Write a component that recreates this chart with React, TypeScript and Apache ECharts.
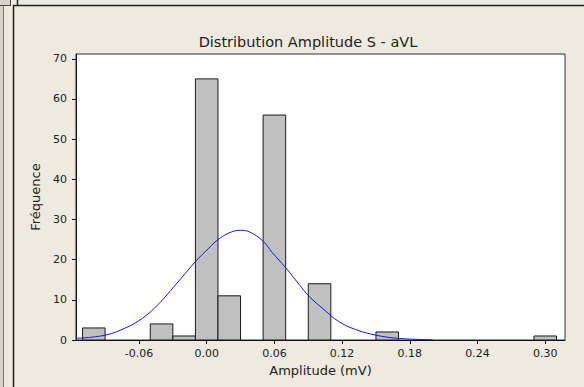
import React, { useEffect, useRef } from "react";
import * as echarts from "echarts";

// Histogram bins (width 0.02 mV) and their counts
const binCenters = [-0.1, -0.04, -0.02, 0.0, 0.02, 0.06, 0.1, 0.16, 0.3];
const binCounts = [3, 4, 1, 65, 11, 56, 14, 2, 1];
const binWidth = 0.02;

// Fitted normal curve, sampled points (amplitude, frequency)
const curveX = [
  -0.116, -0.09, -0.072, -0.057, -0.0425, -0.028, -0.01, 0.002, 0.011, 0.022,
  0.03, 0.038, 0.05, 0.058, 0.07, 0.082, 0.091, 0.103, 0.117, 0.132, 0.15,
  0.17, 0.2,
];
const curveY = [
  0.4, 1.2, 3.0, 5.4, 9.0, 13.6, 19.5, 22.9, 25.2, 26.9, 27.3, 26.9, 24.6,
  21.8, 18.0, 13.8, 10.8, 7.8, 4.6, 2.6, 1.2, 0.4, 0.05,
];

// Axis tick labels
const xTicks = [-0.06, 0.0, 0.06, 0.12, 0.18, 0.24, 0.3];
const yTicks = [0, 10, 20, 30, 40, 50, 60, 70];

const BG = "#EEEADF";
const FONT = "DejaVu Sans";

export default function App() {
  const ref = useRef<HTMLDivElement>(null);

  useEffect(() => {
    if (!ref.current) return;
    const chart = echarts.init(ref.current, undefined, { renderer: "svg" });

    const barData = binCenters.map((c, i) => [
      c - binWidth / 2,
      c + binWidth / 2,
      binCounts[i],
    ]);
    const curveData = curveX.map((x, i) => [x, curveY[i]]);

    const frame = { stroke: "#222", lineWidth: 1.5 };

    chart.setOption({
      animation: false,
      backgroundColor: BG,
      title: {
        text: "Distribution Amplitude S - aVL",
        left: 303,
        textAlign: "center",
        top: 29,
        textStyle: {
          fontFamily: FONT,
          fontSize: 14.5,
          fontWeight: "normal",
          color: "#222",
        },
      },
      graphic: [
        { type: "rect", shape: { x: 0, y: 0, width: 3, height: 387 }, style: { fill: "#D6D2C8" }, silent: true },
        { type: "line", shape: { x1: 3.5, y1: 6, x2: 3.5, y2: 387 }, style: { stroke: "#7a776f", lineWidth: 1 }, silent: true },
        { type: "rect", shape: { x: 0, y: 0, width: 10, height: 5 }, style: { fill: "#D6D2C8" }, silent: true },
        { type: "line", shape: { x1: 10.5, y1: 0, x2: 10.5, y2: 6 }, style: { stroke: "#444", lineWidth: 1 }, silent: true },
        { type: "line", shape: { x1: 0, y1: 5.5, x2: 10.5, y2: 5.5 }, style: { stroke: "#444", lineWidth: 1 }, silent: true },
        { type: "line", shape: { x1: 13.5, y1: 5.5, x2: 13.5, y2: 387 }, style: frame, silent: true },
        { type: "line", shape: { x1: 13, y1: 5.5, x2: 584, y2: 5.5 }, style: frame, silent: true },
        { type: "line", shape: { x1: 17.5, y1: 0, x2: 17.5, y2: 5.5 }, style: frame, silent: true },
      ],
      grid: {
        left: 76,
        right: 19,
        top: 54,
        bottom: 47,
        show: true,
        backgroundColor: "#ffffff",
        borderColor: "#333",
        borderWidth: 1,
      },
      xAxis: {
        type: "value",
        min: -0.1158,
        max: 0.3175,
        name: "Amplitude (mV)",
        nameLocation: "middle",
        nameGap: 23,
        nameTextStyle: { fontFamily: FONT, fontSize: 13, color: "#222" },
        splitLine: { show: false },
        axisLine: { show: true, onZero: false, lineStyle: { color: "#111", width: 1 } },
        axisTick: {
          show: true,
          length: 4,
          customValues: xTicks,
          lineStyle: { color: "#111" },
        },
        axisLabel: {
          customValues: xTicks,
          margin: 8,
          fontFamily: FONT,
          fontSize: 11,
          color: "#222",
          formatter: (v: number) => v.toFixed(2),
        },
      },
      yAxis: {
        type: "value",
        min: 0,
        max: 71.2,
        name: "Fréquence",
        nameLocation: "middle",
        nameGap: 31,
        nameTextStyle: { fontFamily: FONT, fontSize: 13, color: "#222" },
        splitLine: { show: false },
        axisLine: { show: true, onZero: false, lineStyle: { color: "#111", width: 1 } },
        axisTick: {
          show: true,
          length: 4,
          customValues: yTicks,
          lineStyle: { color: "#111" },
        },
        axisLabel: {
          customValues: yTicks,
          margin: 9,
          fontFamily: FONT,
          fontSize: 11,
          color: "#222",
        },
      },
      series: [
        {
          type: "custom",
          data: barData,
          encode: { x: [0, 1], y: 2 },
          renderItem: (params: any, api: any) => {
            const p0 = api.coord([api.value(0), api.value(2)]);
            const p1 = api.coord([api.value(1), 0]);
            return {
              type: "rect",
              shape: {
                x: p0[0],
                y: p0[1],
                width: p1[0] - p0[0],
                height: p1[1] - p0[1],
              },
              style: { fill: "#C0C0C0", stroke: "#1a1a1a", lineWidth: 1 },
            };
          },
          z: 2,
        },
        {
          type: "line",
          data: curveData,
          smooth: 0.4,
          showSymbol: false,
          symbol: "none",
          lineStyle: { color: "#1414ff", width: 1 },
          z: 3,
        },
      ],
    });

    return () => chart.dispose();
  }, []);

  return (
    <div
      ref={ref}
      style={{ position: "fixed", left: 0, top: 0, width: 584, height: 387 }}
    />
  );
}
